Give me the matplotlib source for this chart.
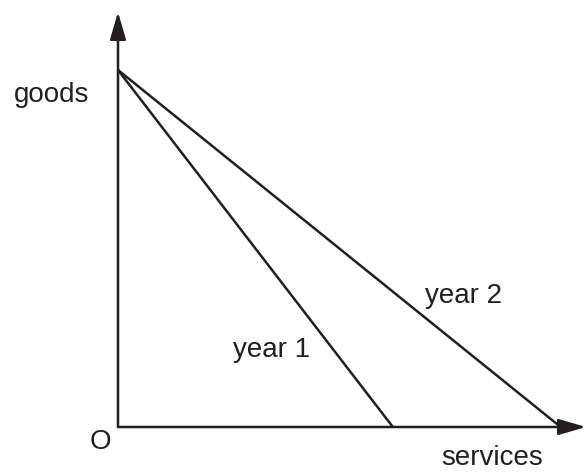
import matplotlib
matplotlib.use("Agg")
import matplotlib.pyplot as plt

# data (arbitrary units, goods intercept shared)
goods_max = 10.0
services_max = {"year 1": 7.7, "year 2": 12.4}
label_pos = {"year 1": (4.29, 2.15), "year 2": (9.69, 3.67)}

plt.rcParams['font.family'] = ['Liberation Sans', 'DejaVu Sans']

fig = plt.figure(figsize=(5.86, 4.73), dpi=100)
ax = fig.add_axes([118 / 586, 46 / 473, 468 / 586, 415 / 473])
ax.set_xlim(0, 468 / 35.7)
ax.set_ylim(0, 415 / 35.7)
ax.axis('off')

arrow = dict(arrowstyle='-|>,head_length=1.2,head_width=0.35', mutation_scale=14,
             lw=1.8, color='#231f20', shrinkA=0, shrinkB=0)
ax.annotate('', xy=(0, 415 / 35.7), xytext=(0, 0), arrowprops=arrow, annotation_clip=False)
ax.annotate('', xy=(468 / 35.7, 0), xytext=(0, 0), arrowprops=arrow, annotation_clip=False)

for name, xmax in services_max.items():
    ax.plot([0, xmax], [goods_max, 0], color='#231f20', lw=1.8, solid_capstyle='butt', clip_on=False)
    tx, ty = label_pos[name]
    ax.text(tx, ty, name, fontsize=20, ha='center', va='center', color='#231f20')

ax.text(-1.85, 9.3, 'goods', fontsize=20, ha='center', va='center', color='#231f20')
ax.text(-0.48, -0.42, 'O', fontsize=20, ha='center', va='center', color='#231f20')
ax.text(10.48, -0.88, 'services', fontsize=20, ha='center', va='center', color='#231f20')

fig.savefig('out.png', dpi=100)
